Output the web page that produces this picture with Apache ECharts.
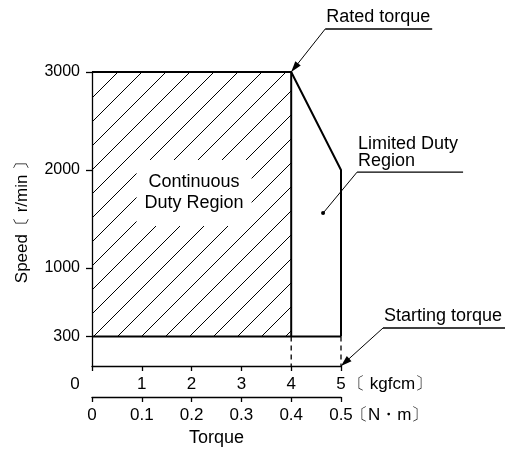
<!DOCTYPE html>
<html>
<head>
<meta charset="utf-8">
<script src="https://cdn.jsdelivr.net/npm/echarts@6/dist/echarts.min.js"></script>
<style>
  html, body { margin: 0; padding: 0; background: #fff; }
  #chart { width: 511px; height: 451px; }
</style>
</head>
<body>
<div id="chart"></div>
<script>
// Torque scales: kgfcm and the equivalent N·m
const kgfcmRange = [0, 5];
const nmRange = [0, 0.5];
// Speed ticks (r/min)
const speedTicks = [300, 1000, 2000, 3000];

// Operating envelope: torque in kgfcm, speed in r/min
const continuousTorque = [0, 4, 4];
const continuousSpeed = [3000, 3000, 300];
const limitedTorque = [4, 5, 5];
const limitedSpeed = [3000, 2000, 300];
const startingTorque = [0, 5];
const startingSpeed = [300, 300];
// Dashed drop lines from the starting-speed line to the torque axis
const dropTorque = [4, 5];
const dropSpeed = [300, 0];

// Callouts and the point each one refers to
const calloutText = ['Rated torque', 'Limited Duty\nRegion', 'Starting torque'];
const calloutTorque = [4, 4.64, 5];
const calloutSpeed = [3000, 1560, 0];

const pairs = (xs, ys) => xs.map((x, i) => [x, ys[i]]);

const FONT = '"Liberation Sans", Arial, Helvetica, sans-serif';

// Leader-line geometry for each callout (pixel offsets from the anchor)
const calloutLayout = [
  { dx: 34, dy: -43, len: 107, tip: 'arrow' },
  { dx: 34, dy: -41, len: 106, tip: 'dot' },
  { dx: 42, dy: -38, len: 122, tip: 'arrow' }
];

// 45° hatch tile for the continuous duty region
const hatch = (function () {
  const s = 24, c = document.createElement('canvas');
  c.width = s; c.height = s;
  const g = c.getContext('2d');
  g.strokeStyle = '#000';
  g.lineWidth = 1;
  [-2, 22, 46].forEach(k => {
    g.beginPath();
    g.moveTo(0, k);
    g.lineTo(k, 0);
    g.stroke();
  });
  return c;
})();

const regionLabelAt = [2.05, 1765];

const chart = echarts.init(document.getElementById('chart'), null, { renderer: 'canvas' });

const lineStyle = { color: '#000', width: 2 };
const plainLine = (data, extra) => Object.assign({
  type: 'line', data, symbol: 'none', silent: true, animation: false,
  lineStyle: Object.assign({}, lineStyle), clip: false, z: 3
}, extra || {});

// Invisible axis that only carries a name
const nameAxis = (offset, name, nameLocation, nameGap, fontSize) => ({
  type: 'value', min: kgfcmRange[0], max: kgfcmRange[1],
  position: 'bottom', offset,
  axisLine: { show: false }, axisTick: { show: false }, axisLabel: { show: false },
  splitLine: { show: false },
  name, nameLocation, nameGap,
  nameTextStyle: { color: '#000', fontFamily: FONT, fontSize }
});

chart.setOption({
  animation: false,
  backgroundColor: '#fff',
  grid: { left: 92, right: 170, top: 72, bottom: 85, outerBoundsMode: 'none' },
  xAxis: [
    {
      type: 'value', min: kgfcmRange[0], max: kgfcmRange[1], interval: 1,
      position: 'bottom',
      axisLine: { lineStyle: { color: '#000', width: 1.3 } },
      axisTick: { length: 5, lineStyle: { color: '#000', width: 1.3 } },
      splitLine: { show: false },
      axisLabel: {
        margin: 10, color: '#000', fontFamily: FONT, fontSize: 17,
        formatter: v => v === 0 ? '{o|0}' : String(v),
        rich: { o: { padding: [0, 34, 0, 0], color: '#000', fontFamily: FONT, fontSize: 17 } }
      }
    },
    {
      type: 'value', min: nmRange[0], max: nmRange[1], interval: 0.1,
      position: 'bottom', offset: 31,
      axisLine: { lineStyle: { color: '#000', width: 1.3 } },
      axisTick: { length: 5, lineStyle: { color: '#000', width: 1.3 } },
      splitLine: { show: false },
      axisLabel: { margin: 10, color: '#000', fontFamily: FONT, fontSize: 17 }
    },
    nameAxis(18, '〔 kgfcm〕', 'end', 7, 17),
    nameAxis(49, '〔N・m〕', 'end', 10, 17),
    nameAxis(31, 'Torque', 'middle', 32, 18)
  ],
  yAxis: {
    type: 'value', min: 0, max: 3000,
    axisLine: { show: true, lineStyle: { color: '#000', width: 1.3 } },
    axisTick: { show: true, length: 6, customValues: speedTicks, lineStyle: { color: '#000', width: 1.3 } },
    axisLabel: {
      customValues: speedTicks, margin: 12, color: '#000', fontFamily: FONT, fontSize: 16,
      formatter: v => String(v)
    },
    splitLine: { show: false }
  },
  graphic: [
    {
      type: 'text', x: 22, y: 218, rotation: Math.PI / 2,
      style: {
        text: 'Speed〔 r/min 〕', fill: '#000', font: '17px ' + FONT,
        align: 'center', verticalAlign: 'middle'
      }
    }
  ],
  series: [
    // Hatched continuous duty region with its label
    {
      type: 'custom', silent: true, z: 1,
      data: [[continuousTorque[0], continuousSpeed[0], continuousTorque[2], continuousSpeed[2]]],
      encode: { x: [0, 2], y: [1, 3] },
      renderItem(params, api) {
        const a = api.coord([api.value(0), api.value(1)]);
        const b = api.coord([api.value(2), api.value(3)]);
        const c = api.coord(regionLabelAt);
        return {
          type: 'group',
          children: [
            {
              type: 'rect',
              shape: { x: a[0], y: a[1], width: b[0] - a[0], height: b[1] - a[1] },
              style: { fill: { image: hatch, repeat: 'repeat' } }
            },
            {
              type: 'text', x: c[0], y: c[1],
              style: {
                text: 'Continuous\nDuty Region', fill: '#000',
                font: '18px ' + FONT, lineHeight: 21,
                align: 'center', verticalAlign: 'middle',
                backgroundColor: '#fff', padding: [12, 8, 12, 8]
              }
            }
          ]
        };
      }
    },
    plainLine(pairs(continuousTorque, continuousSpeed)),
    plainLine(pairs(limitedTorque, limitedSpeed)),
    plainLine(pairs(startingTorque, startingSpeed)),
    plainLine([[dropTorque[0], dropSpeed[0]], [dropTorque[0], dropSpeed[1]]],
      { lineStyle: { color: '#000', width: 1.3, type: [5, 4] } }),
    plainLine([[dropTorque[1], dropSpeed[0]], [dropTorque[1], dropSpeed[1]]],
      { lineStyle: { color: '#000', width: 1.3, type: [5, 4] } }),
    // Callouts with leader lines
    {
      type: 'custom', silent: true, clip: false, z: 5,
      data: calloutTorque.map((x, i) => [x, calloutSpeed[i], i]),
      encode: { x: 0, y: 1 },
      renderItem(params, api) {
        const i = api.value(2);
        const p = api.coord([api.value(0), api.value(1)]);
        const L = calloutLayout[i];
        const e = [p[0] + L.dx, p[1] + L.dy];
        const children = [
          { type: 'line', shape: { x1: e[0], y1: e[1], x2: p[0], y2: p[1] }, style: { stroke: '#000', lineWidth: 1 } },
          { type: 'line', shape: { x1: e[0], y1: e[1], x2: e[0] + L.len, y2: e[1] }, style: { stroke: '#000', lineWidth: 1.3 } },
          {
            type: 'text', x: e[0] + 1, y: e[1] - 3,
            style: {
              text: calloutText[i], fill: '#000', font: '18px ' + FONT, lineHeight: 17,
              align: 'left', verticalAlign: 'bottom'
            }
          }
        ];
        if (L.tip === 'arrow') {
          const vx = p[0] - e[0], vy = p[1] - e[1];
          const d = Math.hypot(vx, vy), ux = vx / d, uy = vy / d;
          const nx = -uy, ny = ux, al = 11, aw = 3.5;
          children.push({
            type: 'polygon',
            shape: { points: [p, [p[0] - ux * al + nx * aw, p[1] - uy * al + ny * aw], [p[0] - ux * al - nx * aw, p[1] - uy * al - ny * aw]] },
            style: { fill: '#000' }
          });
        } else {
          children.push({ type: 'circle', shape: { cx: p[0], cy: p[1], r: 2 }, style: { fill: '#000' } });
        }
        return { type: 'group', children };
      }
    }
  ]
});
</script>
</body>
</html>
